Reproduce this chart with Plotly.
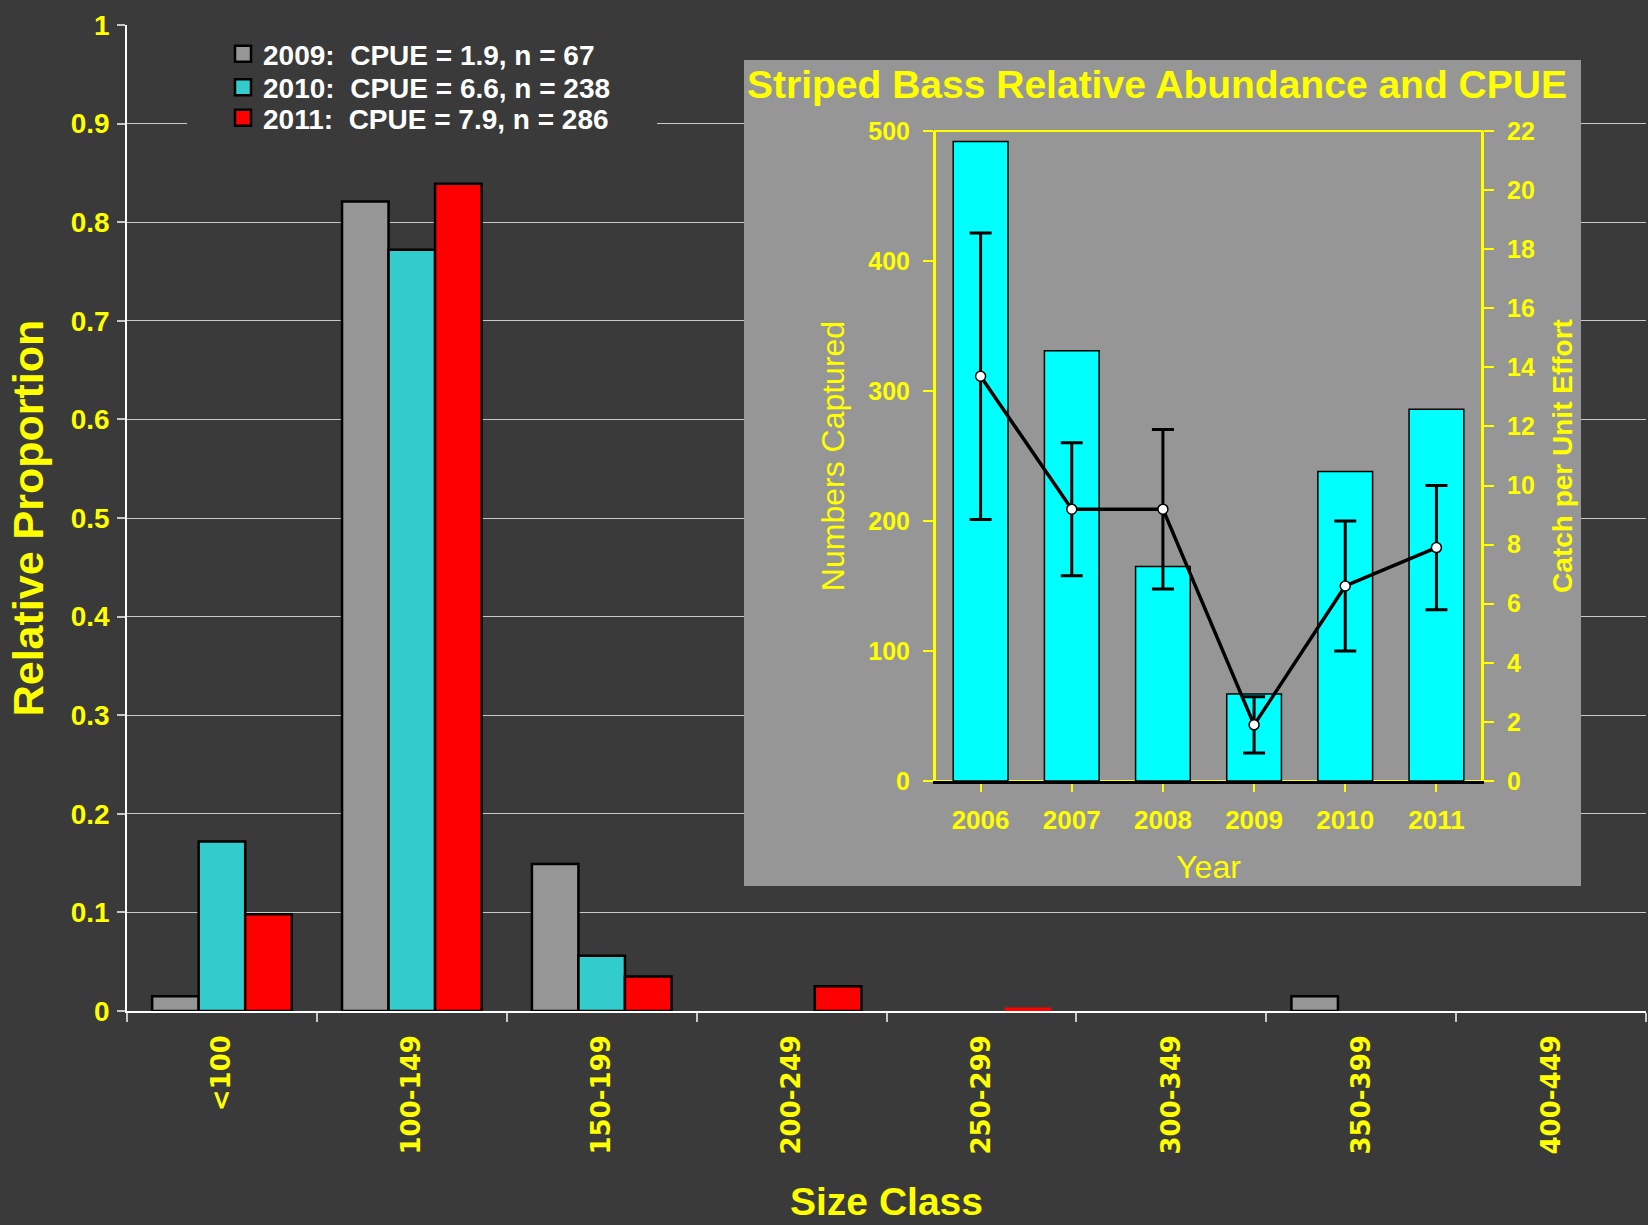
import plotly.graph_objects as go

# ---------------- data ----------------
size_classes = ['<100', '100-149', '150-199', '200-249', '250-299', '300-349', '350-399', '400-449']
prop_2009 = [0.015, 0.821, 0.149, 0.0, 0.0, 0.0, 0.015, 0.0]
prop_2010 = [0.172, 0.772, 0.056, 0.0, 0.0, 0.0, 0.0, 0.0]
prop_2011 = [0.098, 0.839, 0.035, 0.025, 0.0035, 0.0, 0.0, 0.0]
series_names = ['2009:\u00a0 CPUE = 1.9, n = 67',
                '2010:\u00a0 CPUE = 6.6, n = 238',
                '2011:\u00a0 CPUE = 7.9, n = 286']

years = ['2006', '2007', '2008', '2009', '2010', '2011']
numbers_captured = [492, 331, 165, 67, 238, 286]
cpue = [13.7, 9.2, 9.2, 1.9, 6.6, 7.9]
cpue_err = [4.85, 2.25, 2.7, 0.95, 2.2, 2.1]

# ---------------- style ----------------
BG = '#3A3A3A'
YEL = '#FFFF00'
GRAY = '#969696'
TEAL = '#33CCCC'
RED = '#FF0000'
CYAN = '#00FFFF'
GRID = '#C8C8C8'
NARROW = 'Liberation Sans Narrow, Arial Narrow, Liberation Sans, Arial'
ARIAL = 'Liberation Sans, Arial'
WIDE = 'DejaVu Sans, Verdana, Liberation Sans'

W, H = 1648, 1225
ML, MR, MT, MB = 127, 2, 25, 214
PW, PH = W - ML - MR, H - MT - MB


def px(X):
    return (X - ML) / PW


def py(Y):
    return (H - MB - Y) / PH


fig = go.Figure()

colors = [GRAY, TEAL, RED]
all_props = [prop_2009, prop_2010, prop_2011]
legend_ids = ['legend', 'legend2', 'legend3']
for vals, col, name, lg in zip(all_props, colors, series_names, legend_ids):
    lw = [2.5 if v >= 0.005 else 0 for v in vals]
    fig.add_trace(go.Bar(x=size_classes, y=vals, name=name, marker=dict(color=col, line=dict(color='black', width=lw)),
                         showlegend=False, xaxis='x', yaxis='y'))
    fig.add_trace(go.Scatter(x=[None], y=[None], mode='markers', name=name, legend=lg,
                             marker=dict(symbol='square', size=16, color=col, line=dict(color='black', width=2.5)),
                             xaxis='x', yaxis='y'))

# background subplot for inset (gray panel)
fig.add_trace(go.Scatter(x=[None], y=[None], xaxis='x2', yaxis='y2', showlegend=False, hoverinfo='skip'))

# inset traces
fig.add_trace(go.Bar(x=years, y=numbers_captured, width=0.6, xaxis='x3', yaxis='y3', showlegend=False,
                     marker=dict(color=CYAN, line=dict(color='black', width=1.5))))
fig.add_trace(go.Scatter(x=years, y=cpue, xaxis='x3', yaxis='y4', showlegend=False, mode='lines+markers',
                         line=dict(color='black', width=3.5),
                         marker=dict(color='white', size=10, line=dict(color='black', width=1.5)),
                         error_y=dict(type='data', array=cpue_err, color='black', thickness=3, width=11)))

# geometry of inset panel (pixels)
GX0, GX1, GY0, GY1 = 744, 1581, 60, 886
IX0, IX1, IY0, IY1 = 935, 1482, 131, 781

shapes = [
    dict(type='rect', xref='x2', yref='y2', x0=0, x1=1, y0=0, y1=1, layer='below',
         fillcolor=GRAY, line=dict(width=0)),
    dict(type='rect', xref='x2', yref='y2', layer='below',
         x0=(IX0 - GX0) / (GX1 - GX0), x1=(IX1 - GX0) / (GX1 - GX0),
         y0=(GY1 - IY1) / (GY1 - GY0), y1=(GY1 - IY0) / (GY1 - GY0),
         fillcolor='rgba(0,0,0,0)', line=dict(color=YEL, width=2)),
    # cover gridline behind the legend block
    dict(type='rect', xref='paper', yref='paper', layer='above',
         x0=px(187), x1=px(657), y0=py(139), y1=py(108), fillcolor=BG, line=dict(width=0)),
]

legend_common = dict(font=dict(family=NARROW, size=28, color='white', weight='bold'),
                     bgcolor='rgba(0,0,0,0)', borderwidth=0, xanchor='left', yanchor='middle',
                     x=px(223), itemsizing='trace')

fig.update_layout(
    width=W, height=H,
    paper_bgcolor=BG, plot_bgcolor='rgba(0,0,0,0)',
    margin=dict(l=ML, r=MR, t=MT, b=MB),
    barmode='group', bargap=0.265, bargroupgap=0,
    legend=dict(**legend_common, y=py(54)),
    legend2=dict(**legend_common, y=py(87.5)),
    legend3=dict(**legend_common, y=py(118)),
    xaxis=dict(domain=[0, 1], anchor='y', type='category', showline=True, linecolor='white', linewidth=1.5,
               ticks='outside', tickson='boundaries', ticklen=9, tickcolor=GRID, tickwidth=1.5,
               tickangle=-90, ticklabelstandoff=12,
               tickfont=dict(family=WIDE, size=26, color=YEL, weight='bold'),
               title=dict(text='Size Class', font=dict(family=NARROW, size=39, color=YEL, weight='bold'),
                          standoff=34),
               showgrid=False),
    yaxis=dict(domain=[0, 1], anchor='x', range=[0, 1], dtick=0.1, tickformat='.1~f',
               showline=True, linecolor='white', linewidth=1.5,
               ticks='outside', ticklen=8, tickcolor=GRID, tickwidth=1.5, ticklabelstandoff=2,
               tickfont=dict(family=NARROW, size=28, color=YEL, weight='bold'),
               showgrid=True, gridcolor=GRID, gridwidth=1.2, zeroline=False,
               title=dict(text='Relative Proportion', font=dict(family=ARIAL, size=43, color=YEL, weight='bold'),
                          standoff=14)),
    xaxis2=dict(domain=[px(GX0), px(GX1)], anchor='y2', range=[0, 1], visible=False),
    yaxis2=dict(domain=[py(GY1), py(GY0)], anchor='x2', range=[0, 1], visible=False),
    xaxis3=dict(domain=[px(IX0), px(IX1)], anchor='y3', type='category', showline=True, linecolor='black',
                linewidth=3, ticks='outside', ticklen=8, tickcolor=YEL, tickwidth=1.5, showgrid=False,
                ticklabelstandoff=6,
                tickfont=dict(family=ARIAL, size=26, color=YEL, weight='bold'),
                title=dict(text='Year', font=dict(family=ARIAL, size=32, color=YEL), standoff=22)),
    yaxis3=dict(domain=[py(IY1), py(IY0)], anchor='x3', range=[0, 500], dtick=100, showline=True,
                linecolor=YEL, linewidth=2, ticks='outside', ticklen=10, tickcolor=YEL, tickwidth=1.5,
                showgrid=False, zeroline=False, ticklabelstandoff=8,
                tickfont=dict(family=ARIAL, size=25, color=YEL, weight='bold'),
                title=dict(text='Numbers Captured', font=dict(family=ARIAL, size=32, color=YEL), standoff=14)),
    yaxis4=dict(overlaying='y3', side='right', anchor='x3', range=[0, 22], dtick=2, showline=True,
                linecolor=YEL, linewidth=2, ticks='outside', ticklen=10, tickcolor=YEL, tickwidth=1.5,
                showgrid=False, zeroline=False, ticklabelstandoff=8,
                tickfont=dict(family=ARIAL, size=25, color=YEL, weight='bold'),
                title=dict(text='Catch per Unit Effort', font=dict(family=ARIAL, size=28, color=YEL, weight='bold'),
                           standoff=18)),
    shapes=shapes,
    annotations=[dict(text='Striped Bass Relative Abundance and CPUE', xref='paper', yref='paper',
                      x=px((GX0 + GX1) / 2 - 6), y=py(84), xanchor='center', yanchor='middle', showarrow=False,
                      font=dict(family=ARIAL, size=39, color=YEL, weight='bold'))],
)

fig.write_html('out.html', config={'displayModeBar': False},
               post_script="document.body.style.margin='0px';document.body.style.overflow='hidden';")
